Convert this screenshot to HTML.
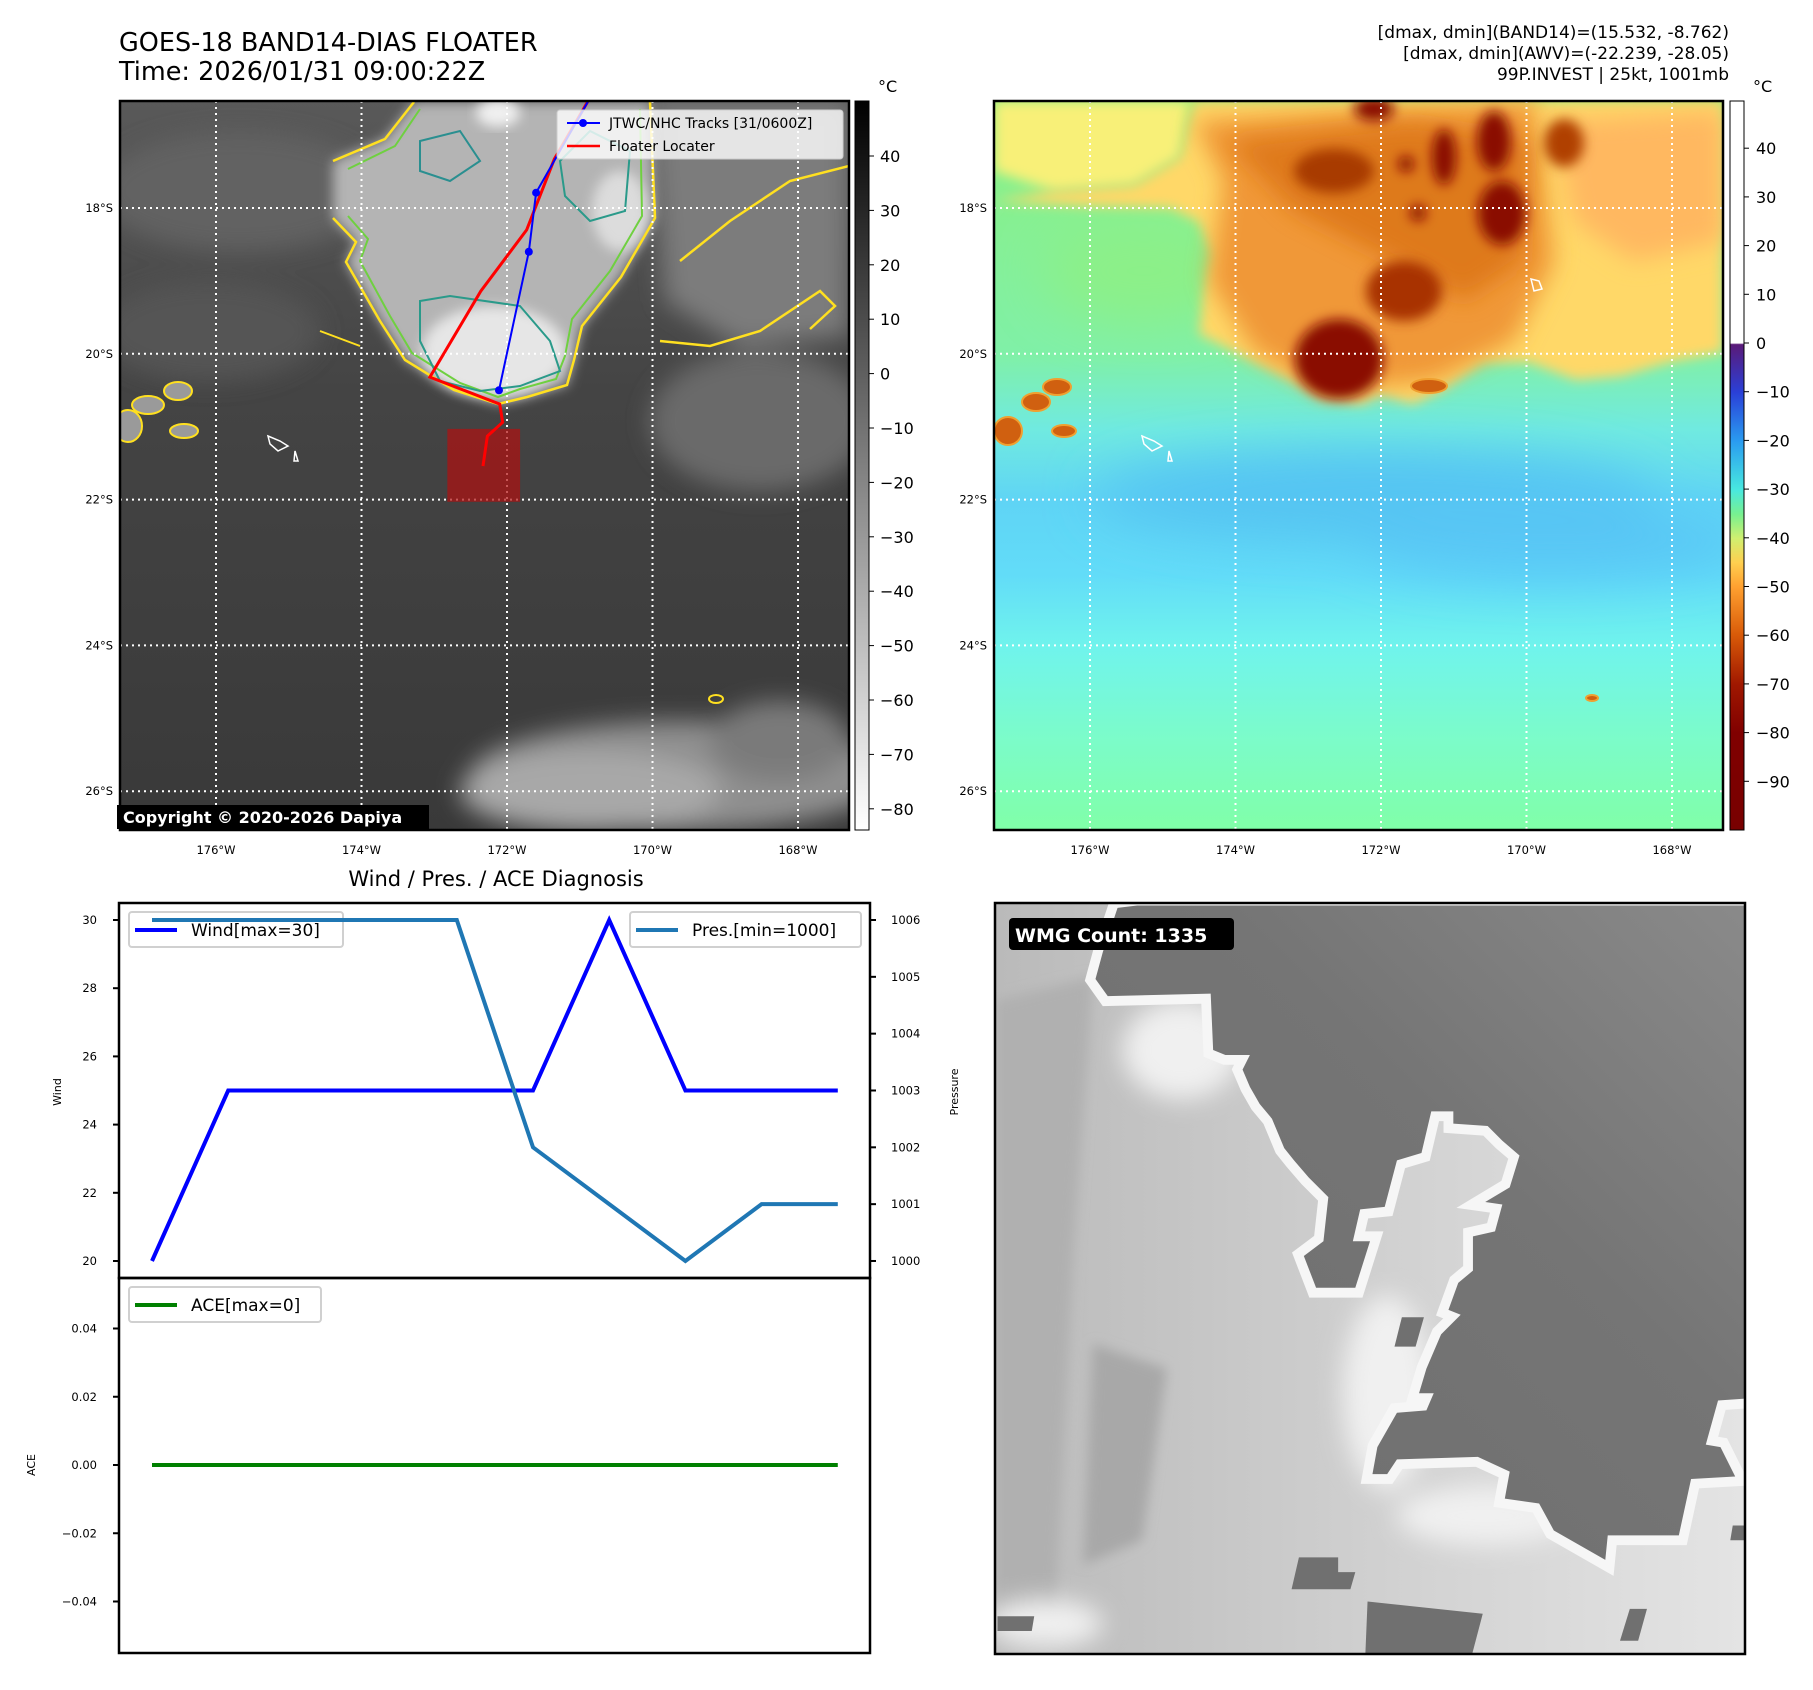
<!DOCTYPE html>
<html><head><meta charset="utf-8">
<style>
html,body{margin:0;padding:0;background:#fff;}
svg{display:block;font-family:"DejaVu Sans","Liberation Sans",sans-serif;}
</style></head>
<body>
<svg id="root" width="1813" height="1690" viewBox="0 0 1813 1690" xmlns="http://www.w3.org/2000/svg">
<defs>
  <clipPath id="mapclip"><rect x="0" y="0" width="729" height="729"/></clipPath>
  <clipPath id="wmgclip"><rect x="0" y="0" width="1530" height="1532"/></clipPath>
  <filter id="b6" x="-20%" y="-20%" width="140%" height="140%"><feGaussianBlur stdDeviation="6"/></filter>
  <filter id="b12" x="-30%" y="-30%" width="160%" height="160%"><feGaussianBlur stdDeviation="12"/></filter>
  <filter id="b25" x="-50%" y="-50%" width="200%" height="200%"><feGaussianBlur stdDeviation="25"/></filter>
  <linearGradient id="gcb" x1="0" y1="0" x2="0" y2="1">
    <stop offset="0" stop-color="#000"/><stop offset="1" stop-color="#fff"/>
  </linearGradient>
  <linearGradient id="rcb" x1="0" y1="0" x2="0" y2="1">
    <stop offset="0" stop-color="#fff"/><stop offset="0.332" stop-color="#fff"/>
    <stop offset="0.334" stop-color="#5a1a78"/><stop offset="0.40" stop-color="#2a40d8"/>
    <stop offset="0.467" stop-color="#2a9cf0"/><stop offset="0.533" stop-color="#48e8e0"/>
    <stop offset="0.567" stop-color="#78f090"/><stop offset="0.60" stop-color="#d0f070"/>
    <stop offset="0.633" stop-color="#ffd050"/><stop offset="0.667" stop-color="#ffa030"/>
    <stop offset="0.733" stop-color="#d85a08"/><stop offset="0.80" stop-color="#a01800"/>
    <stop offset="0.867" stop-color="#800000"/><stop offset="1" stop-color="#780000"/>
  </linearGradient>
  <linearGradient id="rbg" x1="0" y1="0" x2="0" y2="1">
    <stop offset="0" stop-color="#8cf080"/><stop offset="0.35" stop-color="#80f0a8"/>
    <stop offset="0.45" stop-color="#70eae0"/><stop offset="0.55" stop-color="#5fd4f5"/>
    <stop offset="0.65" stop-color="#62dcf8"/><stop offset="0.75" stop-color="#70f4ec"/>
    <stop offset="0.88" stop-color="#7cfcc8"/><stop offset="1" stop-color="#80ffa8"/>
  </linearGradient>
  <linearGradient id="lbg" x1="0" y1="0" x2="0" y2="1">
    <stop offset="0" stop-color="#595959"/><stop offset="0.4" stop-color="#444"/>
    <stop offset="1" stop-color="#393939"/>
  </linearGradient>
  <linearGradient id="wlight" x1="0" y1="0" x2="1" y2="0">
    <stop offset="0" stop-color="#bababa"/><stop offset="0.6" stop-color="#d4d4d4"/><stop offset="1" stop-color="#e4e4e4"/>
  </linearGradient>
  <linearGradient id="wdark" x1="1" y1="0" x2="0" y2="1">
    <stop offset="0" stop-color="#8a8a8a"/><stop offset="0.4" stop-color="#757575"/><stop offset="1" stop-color="#6e6e6e"/>
  </linearGradient>
</defs>

<!-- Titles -->
<text x="119" y="51" font-size="25.5" fill="#000">GOES-18 BAND14-DIAS FLOATER</text>
<text x="119" y="80" font-size="25.5" fill="#000">Time: 2026/01/31 09:00:22Z</text>
<g font-size="17" text-anchor="end" fill="#000">
  <text x="1729" y="38">[dmax, dmin](BAND14)=(15.532, -8.762)</text>
  <text x="1729" y="59">[dmax, dmin](AWV)=(-22.239, -28.05)</text>
  <text x="1729" y="80">99P.INVEST | 25kt, 1001mb</text>
</g>

<!-- LEFT MAP -->
<g transform="translate(120,101)">
  <g clip-path="url(#mapclip)">
    <rect width="729" height="729" fill="url(#lbg)"/>
    <g filter="url(#b12)">
      <ellipse cx="120" cy="90" rx="140" ry="60" fill="#626262"/>
      <ellipse cx="90" cy="230" rx="110" ry="50" fill="#555"/>
      <path d="M530,0 L729,0 L729,235 L620,245 L545,200 Z" fill="#7c7c7c"/>
      <ellipse cx="640" cy="320" rx="110" ry="70" fill="#6a6a6a"/>
      <ellipse cx="560" cy="675" rx="210" ry="55" fill="#8f8f8f"/>
      <ellipse cx="470" cy="690" rx="130" ry="40" fill="#a8a8a8"/>
      <ellipse cx="660" cy="640" rx="70" ry="40" fill="#7a7a7a"/>
    </g>
    <path filter="url(#b6)" d="M213,60 L265,38 L294,1 L530,1 L535,117 L501,176 L462,225 L454,259 L447,284 L407,296 L378,303 L334,289 L285,259 L260,220 L226,161 L236,141 L213,117 Z" fill="#b4b4b4"/>
    <ellipse filter="url(#b6)" cx="374" cy="250" rx="72" ry="45" fill="#e6e6e6"/>
    <ellipse filter="url(#b6)" cx="378" cy="12" rx="22" ry="14" fill="#f0f0f0"/>
    <ellipse filter="url(#b6)" cx="500" cy="110" rx="28" ry="40" fill="#dcdcdc"/>
    <path d="M213,60 L265,38 L294,1 M530,1 L535,117 L501,176 L462,225 L454,259 L447,284 L407,296 L378,303 L334,289 L285,259 L260,220 L226,161 L236,141 L213,117" fill="none" stroke="#ffe020" stroke-width="2.5"/>
    <path d="M228,68 L275,45 L300,8 M520,8 L522,115 L490,170 L452,218 L445,255 L436,278 L400,288 L378,296 L340,282 L292,252 L270,215 L240,160 L248,138 L228,115" fill="none" stroke="#6fd040" stroke-width="2"/>
    <path d="M300,200 L330,195 L400,205 L430,240 L440,270 L400,285 L360,290 L320,280 L300,240 Z" fill="none" stroke="#2a9a8a" stroke-width="2"/>
    <path d="M440,60 L470,30 L510,50 L505,110 L470,120 L445,95 Z" fill="none" stroke="#2a9a8a" stroke-width="2"/>
    <path d="M300,40 L340,30 L360,60 L330,80 L300,70 Z" fill="none" stroke="#2a8f90" stroke-width="2"/>
    <path d="M540,240 L590,245 L640,230 L700,190 L715,205 L690,228 M560,160 L610,120 L670,80 L729,65" fill="none" stroke="#ffe020" stroke-width="2.5"/>
    <path d="M200,230 L240,245" fill="none" stroke="#ffe020" stroke-width="2"/>
    <g fill="#9a9a9a" stroke="#ffe020" stroke-width="2">
      <ellipse cx="28" cy="304" rx="16" ry="9"/>
      <ellipse cx="58" cy="290" rx="14" ry="9"/>
      <ellipse cx="64" cy="330" rx="14" ry="7"/>
      <ellipse cx="8" cy="325" rx="14" ry="16"/>
    </g>
    <ellipse cx="596" cy="598" rx="7" ry="4" fill="none" stroke="#ffe020" stroke-width="2"/>
    <path d="M148,335 L160,340 L168,345 L158,350 L150,343 Z M175,350 L178,360 L174,360 Z" fill="none" stroke="#fff" stroke-width="1.5"/>
    <g id="lgrid" stroke="#fff" stroke-width="2" stroke-dasharray="2,4" fill="none"></g>
    <g id="ltrack"></g>
  </g>
  <rect width="729" height="729" fill="none" stroke="#000" stroke-width="2.5"/>
  <g>
    <rect x="437" y="9" width="286" height="49" rx="3" fill="#fff" fill-opacity="0.8" stroke="#ccc"/>
    <line x1="447" y1="22" x2="480" y2="22" stroke="#0000ff" stroke-width="2"/>
    <circle cx="463" cy="22" r="4" fill="#0000ff"/>
    <text x="489" y="27" font-size="14">JTWC/NHC Tracks [31/0600Z]</text>
    <line x1="447" y1="45" x2="480" y2="45" stroke="#ff0000" stroke-width="2.5"/>
    <text x="489" y="50" font-size="14">Floater Locater</text>
  </g>
  <rect x="-3" y="704" width="312" height="24" fill="#000"/>
  <text x="3" y="722" font-size="16" font-weight="bold" fill="#fff">Copyright © 2020-2026 Dapiya</text>
</g>
<g id="lticks" font-size="11.5" fill="#000"></g>
<rect x="855" y="101" width="14" height="729" fill="url(#gcb)" stroke="#000" stroke-width="1"/>
<text x="878" y="92" font-size="16">°C</text>
<g id="lcb" font-size="16"></g>

<!-- RIGHT MAP -->
<g transform="translate(994,101)">
  <g clip-path="url(#mapclip)">
    <rect width="729" height="729" fill="url(#rbg)"/>
    <g filter="url(#b25)">
      <ellipse cx="380" cy="395" rx="280" ry="45" fill="#55c4f2"/>
      <ellipse cx="560" cy="440" rx="200" ry="35" fill="#58c6f5"/>
      <ellipse cx="150" cy="170" rx="100" ry="50" fill="#8cf088"/>
    </g>
    <path filter="url(#b6)" d="M0,0 L196,0 L186,56 L140,84 L60,90 L0,70 Z" fill="#f8f078"/>
    <path filter="url(#b6)" d="M0,100 L93,105 L177,107 L205,121 L219,154 L209,196 L205,233 L261,261 L298,279 L326,298 L368,303 L386,293 L419,303 L447,289 L489,261 L535,261 L582,279 L628,275 L675,261 L729,251 L729,0 L200,0 L186,56 L140,84 L60,90 Z" fill="#ffd868"/>
    <path filter="url(#b12)" d="M200,20 L540,0 L560,160 L520,240 L440,280 L330,290 L260,250 L215,180 L230,80 Z" fill="#f09838"/>
    <path filter="url(#b12)" d="M233,40 L420,20 L535,40 L530,160 L470,200 L380,150 L300,110 Z" fill="#dc7418" opacity="0.85"/>
    <path filter="url(#b12)" d="M560,20 L729,10 L729,140 L640,160 L580,120 Z" fill="#ffb860"/>
    <g filter="url(#b6)" fill="#8a0a00">
      <ellipse cx="345" cy="258" rx="44" ry="40"/>
      <ellipse cx="410" cy="190" rx="38" ry="30" fill="#a83000"/>
      <ellipse cx="380" cy="8" rx="20" ry="12"/>
      <ellipse cx="450" cy="56" rx="12" ry="28"/>
      <ellipse cx="500" cy="40" rx="17" ry="30"/>
      <ellipse cx="508" cy="112" rx="24" ry="32"/>
      <ellipse cx="412" cy="63" rx="8" ry="8"/>
      <ellipse cx="424" cy="112" rx="8" ry="8"/>
      <ellipse cx="570" cy="42" rx="20" ry="24" fill="#b04000"/>
      <ellipse cx="340" cy="70" rx="40" ry="22" fill="#a83a00"/>
    </g>
    <g fill="#d06010" stroke="#f0a030" stroke-width="2">
      <ellipse cx="14" cy="330" rx="14" ry="14"/>
      <ellipse cx="42" cy="301" rx="14" ry="9"/>
      <ellipse cx="63" cy="286" rx="14" ry="8"/>
      <ellipse cx="70" cy="330" rx="12" ry="6"/>
      <ellipse cx="435" cy="285" rx="18" ry="7"/>
      <ellipse cx="598" cy="597" rx="6" ry="3"/>
    </g>
    <path d="M148,335 L160,340 L168,345 L158,350 L150,343 Z M175,350 L178,360 L174,360 Z M537,178 L545,180 L548,188 L540,190 Z" fill="none" stroke="#fff" stroke-width="1.5"/>
    <g id="rgrid" stroke="#fff" stroke-width="2" stroke-dasharray="2,4" fill="none"></g>
  </g>
  <rect width="729" height="729" fill="none" stroke="#000" stroke-width="2.5"/>
</g>
<g id="rticks" font-size="11.5" fill="#000"></g>
<rect x="1730" y="101" width="14" height="729" fill="url(#rcb)" stroke="#000" stroke-width="1"/>
<text x="1753" y="92" font-size="16">°C</text>
<g id="rcbt" font-size="16"></g>

<!-- DIAGNOSIS CHART -->
<text x="496" y="886" font-size="21" text-anchor="middle">Wind / Pres. / ACE Diagnosis</text>
<g id="chart"></g>

<!-- WMG PANEL -->
<g transform="translate(995,903)">
  <g transform="scale(0.4902)" clip-path="url(#wmgclip)">
    <rect width="1530" height="1532" fill="url(#wlight)"/>
    <g filter="url(#b12)" fill="#b0b0b0">
      <path d="M0,200 L200,150 L160,700 L120,1500 L0,1500 Z"/>
      <path d="M200,900 L350,950 L300,1300 L180,1350 Z" fill="#a8a8a8"/>
    </g>
    <g filter="url(#b25)" fill="#f0f0f0">
      <ellipse cx="800" cy="1000" rx="90" ry="200"/>
      <ellipse cx="1000" cy="1250" rx="180" ry="60"/>
      <ellipse cx="100" cy="1470" rx="120" ry="50"/>
      <ellipse cx="380" cy="300" rx="120" ry="100"/>
    </g>
    <path d="M290,5 L1545,5 L1545,1010 L1475,1015 L1450,1105 L1480,1110 L1510,1170 L1420,1175 L1395,1290 L1250,1290 L1245,1340 L1140,1280 L1110,1225 L1040,1215 L1050,1160 L985,1130 L820,1135 L800,1165 L770,1165 L780,1110 L820,1040 L880,1035 L895,1000 L865,1000 L880,950 L910,880 L950,840 L925,830 L945,775 L975,750 L975,680 L1020,670 L1035,615 L1000,610 L1050,580 L1070,515 L1035,485 L1005,455 L935,450 L935,425 L890,425 L870,510 L820,525 L795,620 L745,625 L730,690 L765,690 L735,785 L655,785 L630,720 L670,690 L680,600 L640,560 L610,525 L590,500 L565,440 L540,410 L520,375 L505,340 L520,310 L470,310 L445,300 L440,185 L230,190 L205,155 L220,100 L250,10 Z" fill="url(#wdark)" stroke="#f6f6f6" stroke-width="40" stroke-linejoin="miter"/>
    <path d="M290,5 L1545,5 L1545,1010 L1475,1015 L1450,1105 L1480,1110 L1510,1170 L1420,1175 L1395,1290 L1250,1290 L1245,1340 L1140,1280 L1110,1225 L1040,1215 L1050,1160 L985,1130 L820,1135 L800,1165 L770,1165 L780,1110 L820,1040 L880,1035 L895,1000 L865,1000 L880,950 L910,880 L950,840 L925,830 L945,775 L975,750 L975,680 L1020,670 L1035,615 L1000,610 L1050,580 L1070,515 L1035,485 L1005,455 L935,450 L935,425 L890,425 L870,510 L820,525 L795,620 L745,625 L730,690 L765,690 L735,785 L655,785 L630,720 L670,690 L680,600 L640,560 L610,525 L590,500 L565,440 L540,410 L520,375 L505,340 L520,310 L470,310 L445,300 L440,185 L230,190 L205,155 L220,100 L250,10 Z" fill="url(#wdark)"/>
    <g fill="#707070">
      <path d="M620,1335 L700,1335 L700,1365 L735,1365 L725,1400 L605,1400 Z"/>
      <path d="M760,1425 L995,1450 L970,1545 L755,1545 Z"/>
      <path d="M1295,1440 L1330,1440 L1312,1505 L1275,1505 Z"/>
      <path d="M5,1455 L80,1455 L75,1485 L5,1485 Z"/>
      <path d="M1505,1270 L1545,1270 L1545,1300 L1500,1300 Z"/>
      <path d="M830,845 L875,845 L858,905 L815,905 Z"/>
    </g>
  </g>
  <rect x="0" y="0" width="750" height="751" fill="none" stroke="#000" stroke-width="2.5"/>
  <rect x="14" y="15" width="225" height="32" rx="4" fill="#000"/>
  <text x="20" y="39" font-size="19" font-weight="bold" fill="#fff">WMG Count: 1335</text>
</g>

<script>
const obsIndex = [0,1,2,3,4,5,6,7,8,9];
const windKt = [20,25,25,25,25,25,30,25,25,25];
const presMb = [1006,1006,1006,1006,1006,1002,1001,1000,1001,1001];
const aceVal = [0,0,0,0,0,0,0,0,0,0];
const windTicks = [20,22,24,26,28,30];
const presTicks = [1000,1001,1002,1003,1004,1005,1006];
const aceTicks = [-0.04,-0.02,0.00,0.02,0.04];
const aceTickLabels = ["\u22120.04","\u22120.02","0.00","0.02","0.04"];
const lonTicks = [-176,-174,-172,-170,-168];
const lonTickLabels = ["176°W","174°W","172°W","170°W","168°W"];
const latTicks = [-18,-20,-22,-24,-26];
const latTickLabels = ["18°S","20°S","22°S","24°S","26°S"];
const jtwcLon = [-170.75,-171.60,-171.70,-172.11];
const jtwcLat = [-16.30,-17.79,-18.60,-20.50];
const floaterLon = [-170.75,-171.35,-171.73,-172.36,-173.06,-172.10,-172.06,-172.27,-172.33];
const floaterLat = [-16.30,-17.33,-18.30,-19.14,-20.32,-20.69,-20.94,-21.13,-21.54];
const floaterBoxLon = [-172.82,-171.82];
const floaterBoxLat = [-21.03,-22.03];
const irCbTicks = [40,30,20,10,0,-10,-20,-30,-40,-50,-60,-70,-80];
const awvCbTicks = [40,30,20,10,0,-10,-20,-30,-40,-50,-60,-70,-80,-90];

const NS = "http://www.w3.org/2000/svg";
function mk(tag, attrs, parent){const e=document.createElementNS(NS,tag);for(const k in attrs)e.setAttribute(k,attrs[k]);parent.appendChild(e);return e;}
function fmtNeg(v){return v<0?"\u2212"+Math.abs(v):String(v);}

const mx = lon => 96 + (lon + 176) * 72.75;
const my = lat => 107 + (-18 - lat) * 72.9;

function drawGrid(g){
  lonTicks.forEach(l=>{const e=mk('line',{x1:mx(l),x2:mx(l),y1:0,y2:729},g);

});
  latTicks.forEach(l=>{const e=mk('line',{x1:0,x2:729,y1:my(l),y2:my(l)},g);

});
}
drawGrid(document.getElementById('lgrid'));
drawGrid(document.getElementById('rgrid'));

function drawMapTicks(g, ox, oy){
  lonTicks.forEach((l,i)=>{const t=mk('text',{x:ox+mx(l),y:oy+753,'text-anchor':'middle'},g);t.textContent=lonTickLabels[i];

});
  latTicks.forEach((l,i)=>{const t=mk('text',{x:ox-7,y:oy+my(l)+4,'text-anchor':'end'},g);t.textContent=latTickLabels[i];

});
}
drawMapTicks(document.getElementById('lticks'),120,101);
drawMapTicks(document.getElementById('rticks'),994,101);

const tg = document.getElementById('ltrack');
const box = mk('rect',{x:mx(floaterBoxLon[0]),y:my(floaterBoxLat[0]),width:mx(floaterBoxLon[1])-mx(floaterBoxLon[0]),height:my(floaterBoxLat[1])-my(floaterBoxLat[0]),fill:'#b01010','fill-opacity':0.7},tg);


const fl = mk('polyline',{points:floaterLon.map((l,i)=>mx(l)+','+my(floaterLat[i])).join(' '),fill:'none',stroke:'#ff0000','stroke-width':3},tg);


const jl = mk('polyline',{points:jtwcLon.map((l,i)=>mx(l)+','+my(jtwcLat[i])).join(' '),fill:'none',stroke:'#0000ff','stroke-width':2},tg);


jtwcLon.forEach((l,i)=>{if(i===0)return;const c=mk('circle',{cx:mx(l),cy:my(jtwcLat[i]),r:4,fill:'#0000ff'},tg);

});

const irY = v => 156 + (40 - v) * 5.44;
const lcb = document.getElementById('lcb');
irCbTicks.forEach(v=>{mk('line',{x1:869,x2:874,y1:irY(v),y2:irY(v),stroke:'#000','stroke-width':1},lcb);
const t=mk('text',{x:880,y:irY(v)+6},lcb);t.textContent=fmtNeg(v);

});
const awY = v => 343 - v * 4.87;
const rcb = document.getElementById('rcbt');
awvCbTicks.forEach(v=>{mk('line',{x1:1744,x2:1749,y1:awY(v),y2:awY(v),stroke:'#000','stroke-width':1},rcb);
const t=mk('text',{x:1756,y:awY(v)+6},rcb);t.textContent=fmtNeg(v);

});

const cx = i => 152 + i * 76.2;
const yW = v => 920 + (30 - v) * 34.1;
const yP = p => 920 + (1006 - p) * 56.83;
const yA = a => 1465 - a / 0.04 * 136.5;
const ch = document.getElementById('chart');
const wf = mk('rect',{x:119,y:903,width:751,height:375,fill:'none',stroke:'#000','stroke-width':2.5},ch);


const af = mk('rect',{x:119,y:1278,width:751,height:375,fill:'none',stroke:'#000','stroke-width':2.5},ch);


windTicks.forEach(v=>{mk('line',{x1:113,x2:119,y1:yW(v),y2:yW(v),stroke:'#000','stroke-width':2},ch);
const t=mk('text',{x:97,y:yW(v)+4,'text-anchor':'end','font-size':11.5},ch);t.textContent=v;

});
presTicks.forEach(v=>{mk('line',{x1:870,x2:876,y1:yP(v),y2:yP(v),stroke:'#000','stroke-width':2},ch);
const t=mk('text',{x:891,y:yP(v)+4,'font-size':11.5},ch);t.textContent=v;

});
aceTicks.forEach((v,i)=>{mk('line',{x1:113,x2:119,y1:yA(v),y2:yA(v),stroke:'#000','stroke-width':2},ch);
const t=mk('text',{x:97,y:yA(v)+4,'text-anchor':'end','font-size':11.5},ch);t.textContent=aceTickLabels[i];

});
const wl=mk('text',{x:0,y:0,'font-size':11,transform:'translate(61,1092) rotate(-90)','text-anchor':'middle'},ch);wl.textContent='Wind';


const pl=mk('text',{x:0,y:0,'font-size':11,transform:'translate(958,1092) rotate(-90)','text-anchor':'middle'},ch);pl.textContent='Pressure';


const al=mk('text',{x:0,y:0,'font-size':11,transform:'translate(35,1465) rotate(-90)','text-anchor':'middle'},ch);al.textContent='ACE';



function legend(x,y,w,color,label,name){
  const g=mk('g',{},ch);
  
  
  mk('rect',{x:x,y:y,width:w,height:35,rx:3,fill:'#fff','fill-opacity':0.8,stroke:'#d0d0d0','stroke-width':2},g);
  mk('line',{x1:x+6,x2:x+48,y1:y+18,y2:y+18,stroke:color,'stroke-width':4},g);
  const t=mk('text',{x:x+62,y:y+24,'font-size':17},g);t.textContent=label;
}
legend(129,912,214,'#0000ff','Wind[max=30]','wind-legend');
legend(630,912,231,'#1f77b4','Pres.[min=1000]','pressure-legend');
legend(129,1287,192,'#008000','ACE[max=0]','ace-legend');

const wline = mk('polyline',{points:obsIndex.map(i=>cx(i)+','+yW(windKt[i])).join(' '),fill:'none',stroke:'#0000ff','stroke-width':4},ch);


const pline = mk('polyline',{points:obsIndex.map(i=>cx(i)+','+yP(presMb[i])).join(' '),fill:'none',stroke:'#1f77b4','stroke-width':4},ch);


const aline = mk('polyline',{points:obsIndex.map(i=>cx(i)+','+yA(aceVal[i])).join(' '),fill:'none',stroke:'#008000','stroke-width':4},ch);


</script>
</svg>
</body></html>
